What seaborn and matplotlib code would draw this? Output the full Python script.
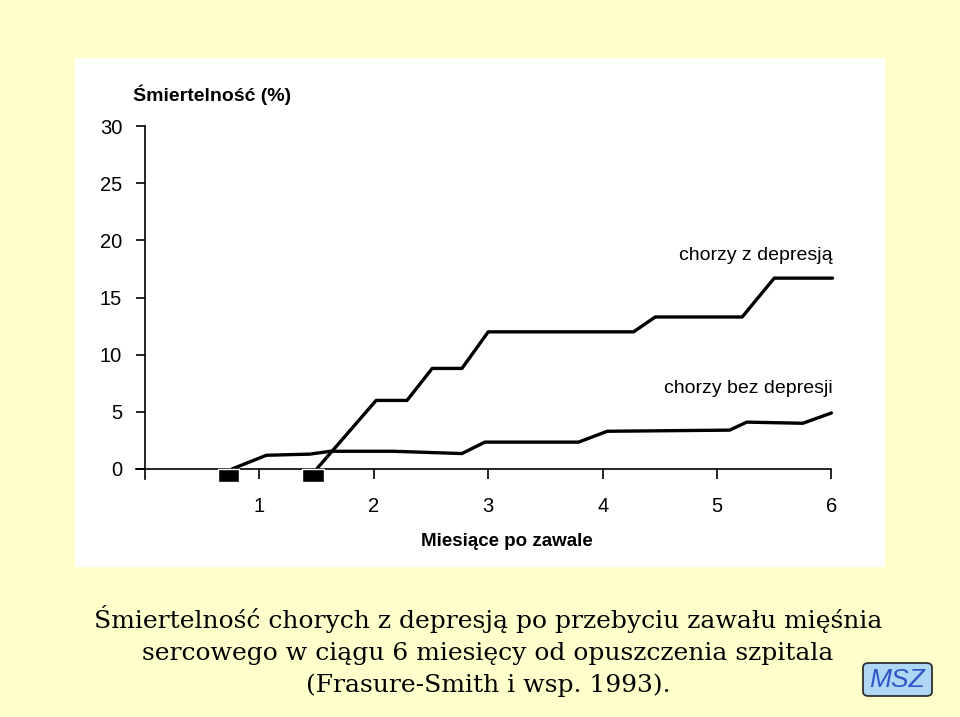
import matplotlib
matplotlib.use("Agg")
import matplotlib.pyplot as plt
from matplotlib.patches import Rectangle, FancyBboxPatch
import seaborn as sns
import pandas as pd

# ---- data ----
dep_months = [1.50, 2.02, 2.29, 2.51, 2.77, 3.00, 4.27, 4.46, 5.22, 5.50, 6.01]
dep_values = [0.0, 6.0, 6.0, 8.8, 8.8, 12.0, 12.0, 13.3, 13.3, 16.7, 16.7]

nodep_months = [0.76, 1.06, 1.44, 1.62, 2.17, 2.77, 2.97, 3.79, 4.04, 5.11, 5.26, 5.75, 6.00]
nodep_values = [0.0, 1.2, 1.3, 1.55, 1.55, 1.35, 2.35, 2.35, 3.3, 3.4, 4.1, 4.0, 4.9]

square_months = [0.73, 1.47]
square_depth = [1.1, 1.1]

x_ticks = [1, 2, 3, 4, 5, 6]
y_ticks = [0, 5, 10, 15, 20, 25, 30]

y_title = "Śmiertelność (%)"
x_title = "Miesiące po zawale"
label_dep = "chorzy z depresją"
label_nodep = "chorzy bez depresji"
caption = ["Śmiertelność chorych z depresją po przebyciu zawału mięśnia",
           "sercowego w ciągu 6 miesięcy od opuszczenia szpitala",
           "(Frasure-Smith i wsp. 1993)."]
badge = "MSZ"

sns.set_theme(style="white")
plt.rcParams["font.family"] = ["Liberation Sans", "DejaVu Sans"]
plt.rcParams["text.color"] = "black"
plt.rcParams["axes.labelcolor"] = "black"
plt.rcParams["xtick.color"] = "black"
plt.rcParams["ytick.color"] = "black"

df = pd.concat([
    pd.DataFrame({"month": dep_months, "value": dep_values, "group": label_dep}),
    pd.DataFrame({"month": nodep_months, "value": nodep_values, "group": label_nodep}),
], ignore_index=True)

fig = plt.figure(figsize=(9.6, 7.17), dpi=100)
fig.patch.set_facecolor("#FFFFCC")
fig.add_artist(Rectangle((75 / 960, 1 - 567 / 717), 810 / 960, 509 / 717,
                         transform=fig.transFigure, facecolor="white",
                         edgecolor="none", zorder=-1))

ax = fig.add_axes([0.1392, 0.3220, 0.7626, 0.5180])
ax.set_facecolor("none")

sns.lineplot(data=df, x="month", y="value", hue="group",
             palette={label_dep: "black", label_nodep: "black"},
             estimator=None, sort=False, legend=False, linewidth=2.4, ax=ax)

ax.bar(square_months, [-d for d in square_depth], width=0.19, bottom=0,
       color="black", align="center", zorder=3)

ax.set_xlim(-0.1, 6.3)
ax.set_ylim(-1.5, 31)
for s in ["top", "right"]:
    ax.spines[s].set_visible(False)
ax.spines["left"].set_position(("data", 0))
ax.spines["bottom"].set_position(("data", 0))
ax.spines["left"].set_bounds(-0.87, 30)
ax.spines["bottom"].set_bounds(-0.08, 6.0)
for s in ["left", "bottom"]:
    ax.spines[s].set_color("black")
    ax.spines[s].set_linewidth(1.2)

ax.set_xticks(x_ticks)
ax.set_yticks(y_ticks)
ax.set_xticklabels([str(t) for t in x_ticks])
ax.set_yticklabels([str(t) for t in y_ticks])
ax.tick_params(axis="y", direction="out", length=6.5, width=1.2, pad=10,
               labelsize=14.5, colors="black", left=True)
ax.tick_params(axis="x", direction="out", length=7.2, width=1.2, pad=13,
               labelsize=14.5, colors="black", bottom=True)
ax.set_xlabel(x_title, fontsize=13.5, fontweight="bold", va="center",
              color="black")
ax.xaxis.set_label_coords(0.510, -0.148)
ax.set_ylabel("")
ax.grid(False)

ax.text(6.01, 18.7, label_dep, ha="right", va="center", fontsize=14,
        color="black")
ax.text(6.01, 7.0, label_nodep, ha="right", va="center", fontsize=14,
        color="black")

fig.text(133 / 960, 1 - 95 / 717, y_title, fontsize=14, fontweight="bold",
         ha="left", va="center", color="black")

for line, b in zip(caption, [628, 660, 692]):
    fig.text(488 / 960, 1 - b / 717, line, ha="center", va="baseline",
             fontsize=18, family=["DejaVu Serif"], color="black")

fig.add_artist(FancyBboxPatch((863 / 960, 1 - 696 / 717), 69 / 960, 33 / 717,
                              boxstyle="round,pad=0,rounding_size=0.006",
                              transform=fig.transFigure, facecolor="#AFD6F2",
                              edgecolor="#303030", linewidth=1.3))
fig.text(897 / 960, 1 - 680 / 717, badge, ha="center", va="center",
         fontsize=19, style="italic", color="#2F55C8",
         family=["Liberation Sans", "DejaVu Sans"])

fig.savefig("out.png", dpi=100, facecolor=fig.get_facecolor())
